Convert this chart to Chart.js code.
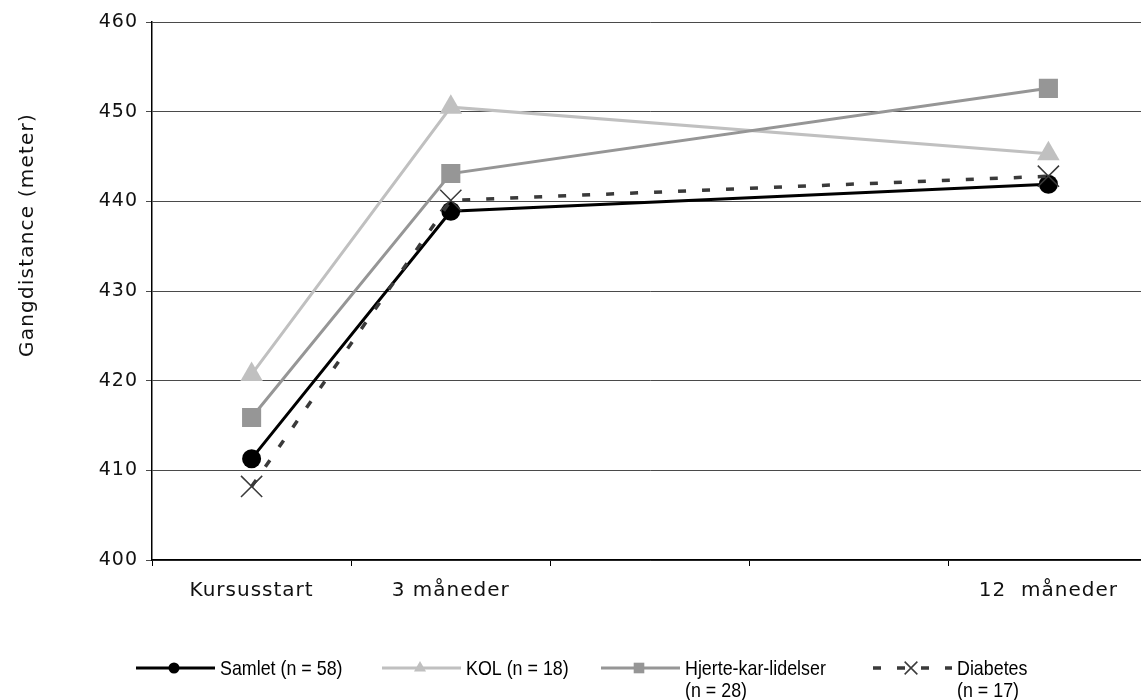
<!DOCTYPE html>
<html>
<head>
<meta charset="utf-8">
<script src="https://cdn.jsdelivr.net/npm/chart.js@4/dist/chart.umd.min.js"></script>
<style>
  html, body { margin: 0; padding: 0; background: #fff; overflow: hidden; }
  canvas { display: block; }
</style>
</head>
<body>
<canvas id="gangChart" width="1150" height="700"></canvas>
<script>
// categories (two empty slots keep the time spacing: 0, 3 and 12 months)
const categories = ["Kursusstart", "3 måneder", "", "", "12  måneder"];

// walking distance in meters
const samlet = [411.3, 438.9, null, null, 441.9];
const kol = [420.7, 450.5, null, null, 445.3];
const hjerte = [415.9, 443.1, null, null, 452.6];
const diabetes = [408.2, 440.1, null, null, 442.8];

const yMin = 400;
const yMax = 460;
const yStep = 10;

const yTitle = "Gangdistance (meter)";

const legendLabels = [
  ["Samlet (n = 58)"],
  ["KOL (n = 18)"],
  ["Hjerte-kar-lidelser", "(n = 28)"],
  ["Diabetes", "(n = 17)"],
];

// spacing for axis text (original looks tracked out)
function setSpacing(chart) {
  chart.ctx.letterSpacing = "1px";
}

const spacingPlugin = {
  id: "spacing",
  beforeUpdate: setSpacing,
  beforeLayout: setSpacing,
  beforeDraw: setSpacing,
};

// y title sits a bit above the middle in the original
const yTitlePlugin = {
  id: "yTitle",
  afterDraw(chart) {
    const ctx = chart.ctx;
    ctx.save();
    ctx.letterSpacing = "1.2px";
    ctx.translate(28, 235);
    ctx.rotate(-Math.PI / 2);
    ctx.fillStyle = "#111";
    ctx.font = "20px 'DejaVu Sans', Verdana, sans-serif";
    ctx.textAlign = "center";
    ctx.textBaseline = "middle";
    ctx.fillText(yTitle, 0, 0);
    ctx.restore();
  },
};

// legend at the bottom, with two-line labels
const bottomLegend = {
  id: "bottomLegend",
  afterDraw(chart) {
    const ctx = chart.ctx;
    const startX = [136, 382, 601, 873];
    const y = 668;
    const lineLen = 79;
    ctx.save();
    ctx.letterSpacing = "0px";
    chart.data.datasets.forEach((ds, i) => {
      const x0 = startX[i];
      // line sample
      ctx.strokeStyle = ds.borderColor;
      ctx.lineWidth = ds.borderWidth;
      ctx.setLineDash(ds.borderDash || []);
      ctx.beginPath();
      ctx.moveTo(x0, y);
      ctx.lineTo(x0 + lineLen, y);
      ctx.stroke();
      ctx.setLineDash([]);
      // marker
      ctx.fillStyle = ds.pointBackgroundColor;
      ctx.strokeStyle = ds.pointBorderColor;
      ctx.lineWidth = ds.pointBorderWidth;
      Chart.helpers.drawPoint(ctx, {
        pointStyle: ds.pointStyle,
        radius: ds.legendRadius,
        borderWidth: ds.pointBorderWidth,
        rotation: 0,
      }, x0 + 38, y);
      // text
      ctx.fillStyle = "#000";
      ctx.font = "21px 'Liberation Sans', Arial, sans-serif";
      ctx.textBaseline = "alphabetic";
      ctx.textAlign = "left";
      legendLabels[i].forEach((txt, k) => {
        ctx.save();
        ctx.translate(x0 + 84, y + 7 + k * 22);
        ctx.scale(0.85, 1);
        ctx.fillText(txt, 0, 0);
        ctx.restore();
      });
    });
    ctx.restore();
  },
};

const ctx = document.getElementById("gangChart").getContext("2d");

new Chart(ctx, {
  type: "line",
  data: {
    labels: categories,
    datasets: [
      {
        label: "Samlet (n = 58)",
        data: samlet,
        borderColor: "#000000",
        borderWidth: 3,
        pointStyle: "circle",
        pointRadius: 9.5,
        pointBackgroundColor: "#000000",
        pointBorderColor: "#000000",
        pointBorderWidth: 0,
        legendRadius: 5.5,
        order: 4,
      },
      {
        label: "KOL (n = 18)",
        data: kol,
        borderColor: "#c0c0c0",
        borderWidth: 3,
        pointStyle: "triangle",
        pointRadius: 13,
        pointBackgroundColor: "#c0c0c0",
        pointBorderColor: "#c0c0c0",
        pointBorderWidth: 0,
        legendRadius: 7,
        order: 3,
      },
      {
        label: "Hjerte-kar-lidelser (n = 28)",
        data: hjerte,
        borderColor: "#969696",
        borderWidth: 3,
        pointStyle: "rect",
        pointRadius: 13.5,
        pointBackgroundColor: "#969696",
        pointBorderColor: "#969696",
        pointBorderWidth: 0,
        legendRadius: 7.5,
        order: 2,
      },
      {
        label: "Diabetes (n = 17)",
        data: diabetes,
        borderColor: "#3a3a3a",
        borderWidth: 3.5,
        borderDash: [8, 16],
        pointStyle: "crossRot",
        pointRadius: 15,
        pointBackgroundColor: "#3a3a3a",
        pointBorderColor: "#3a3a3a",
        pointBorderWidth: 1.5,
        legendRadius: 9,
        order: 1,
      },
    ],
  },
  options: {
    responsive: false,
    maintainAspectRatio: false,
    devicePixelRatio: 1,
    animation: false,
    spanGaps: true,
    layout: {
      autoPadding: false,
      padding: { left: 0, right: 2, top: 22, bottom: 80 },
    },
    elements: {
      line: { tension: 0, borderCapStyle: "butt", borderJoinStyle: "miter" },
    },
    plugins: {
      legend: { display: false },
      tooltip: { enabled: false },
    },
    scales: {
      x: {
        type: "category",
        offset: true,
        grid: {
          offset: true,
          drawOnChartArea: false,
          drawTicks: true,
          tickLength: 6,
          color: "#000",
          lineWidth: 1,
        },
        border: { color: "#000", width: 1.5 },
        ticks: {
          autoSkip: false,
          maxRotation: 0,
          padding: 13,
          color: "#111",
          font: { family: "'DejaVu Sans', Verdana, sans-serif", size: 20 },
        },
        afterFit(scale) {
          scale.height = 60;
          scale.paddingLeft = 0;
          scale.paddingRight = 0;
        },
      },
      y: {
        min: yMin,
        max: yMax,
        grid: {
          color: "#4a4a4a",
          lineWidth: 1,
          tickLength: 6,
        },
        border: { color: "#000", width: 1.5 },
        ticks: {
          stepSize: yStep,
          padding: 8,
          color: "#111",
          font: { family: "'DejaVu Sans', Verdana, sans-serif", size: 19 },
        },
        afterFit(scale) {
          scale.width = 152;
        },
      },
    },
  },
  plugins: [spacingPlugin, yTitlePlugin, bottomLegend],
});
</script>
</body>
</html>
